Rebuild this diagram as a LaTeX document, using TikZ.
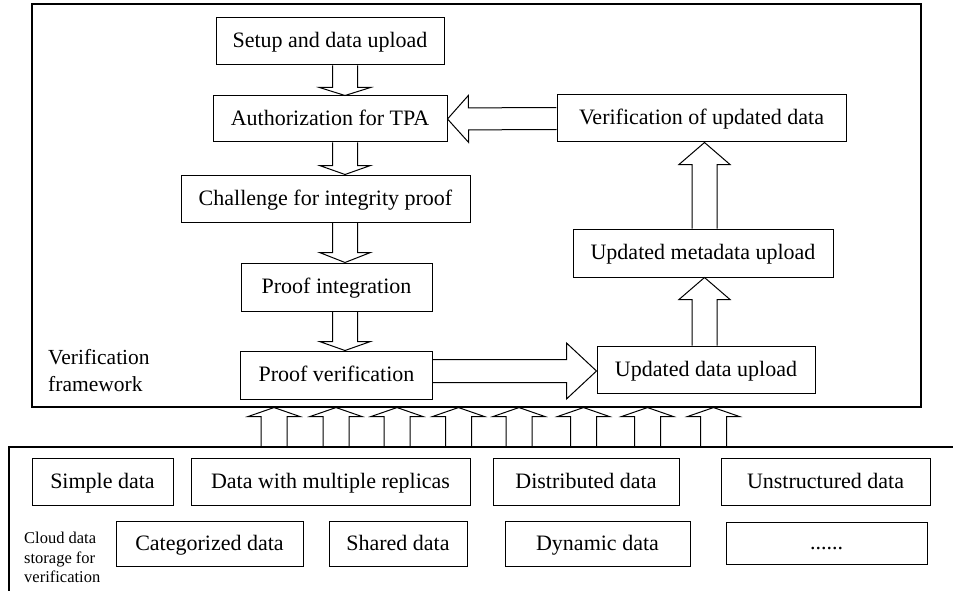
\documentclass[tikz,border=0pt]{standalone}
\usepackage{fontspec}
\setmainfont{Liberation Serif}
\usetikzlibrary{calc}
\tikzset{
  box/.style={draw, line width=1pt, inner sep=0pt, text height=17pt, text depth=4pt, font=\fontsize{22}{26}\selectfont},
  blk/.style={draw, line width=1pt, line join=miter},
  lbl/.style={inner sep=0pt, align=left, anchor=north west},
}
\newcommand\blockarrow[5]{%
  \coordinate (hb) at ($(#2)!#5!(#1)$);
  \draw[blk] ($(#1)!#3!90:(#2)$) -- ($(hb)!#3!90:(#2)$) -- ($(hb)!#4!90:(#2)$) -- (#2)
     -- ($(hb)!#4!-90:(#2)$) -- ($(hb)!#3!-90:(#2)$) -- ($(#1)!#3!-90:(#2)$);
}
\begin{document}
\begin{tikzpicture}[x=1pt, y=-1pt]
\useasboundingbox (0,0) rectangle (953,591);
% frames
\node[draw, line width=1.1pt, minimum width=889pt, minimum height=403pt, inner sep=0pt] (frame) at (476.5,205.5) {};
\coordinate (cloudtop) at (9,447);
\coordinate (cloudend) at (953,447);
\coordinate (cloudbot) at (9,591);
\draw[line width=1.1pt] (cloudend) -- (cloudtop) -- (cloudbot);
% labels
\node[lbl, font=\fontsize{21.5}{27}\selectfont] (vflab) at (48,349) {Verification\\framework};
\node[lbl, font=\fontsize{16.5}{19.5}\selectfont] (cdlab) at (24,532) {Cloud data\\storage for\\verification};
% upper boxes
\node[box, minimum width=228pt, minimum height=47pt] (setup) at (330,41.5) {Setup and data upload};
\node[box, minimum width=234pt, minimum height=46pt] (auth) at (330,119) {Authorization for TPA};
\node[box, minimum width=289pt, minimum height=47pt] (chal) at (325.5,198.5) {Challenge for integrity proof};
\node[box, minimum width=191pt, minimum height=48pt] (integ) at (336.5,287) {Proof integration};
\node[box, minimum width=192pt, minimum height=48pt] (pverif) at (336.5,375) {Proof verification};
\node[box, minimum width=289pt, minimum height=47pt] (vud) at (701.5,118.5) {Verification of updated data};
\node[box, minimum width=260pt, minimum height=48pt] (meta) at (703,253) {Updated metadata upload};
\node[box, minimum width=218pt, minimum height=47pt] (udu) at (706,369.5) {Updated data upload};
% lower boxes
\node[box, minimum width=141pt, minimum height=47pt] (simple) at (102.5,481.5) {Simple data};
\node[box, minimum width=279pt, minimum height=47pt] (repl) at (330.5,481.5) {Data with multiple replicas};
\node[box, minimum width=186pt, minimum height=47pt] (distr) at (586,481.5) {Distributed data};
\node[box, minimum width=209pt, minimum height=47pt] (unstr) at (825.5,481.5) {Unstructured data};
\node[box, minimum width=187pt, minimum height=45pt] (categ) at (209.5,543.5) {Categorized data};
\node[box, minimum width=138pt, minimum height=45pt] (shared) at (398,543.5) {Shared data};
\node[box, minimum width=185pt, minimum height=45pt] (dyn) at (597.5,543.5) {Dynamic data};
\node[box, minimum width=201pt, minimum height=42pt] (more) at (826.5,543) {......};
% arrow axes
\coordinate (ax) at (345,0);
\coordinate (rx) at (704.5,0);
\coordinate (hy) at (0,371);
% down arrows
\blockarrow{ax |- setup.south}{ax |- auth.north}{12.5pt}{25.5pt}{8pt}
\blockarrow{ax |- auth.south}{ax |- chal.north}{12.5pt}{25.5pt}{9pt}
\blockarrow{ax |- chal.south}{ax |- integ.north}{12.5pt}{25.5pt}{10pt}
\blockarrow{ax |- integ.south}{ax |- pverif.north}{12.5pt}{25.5pt}{9pt}
% horizontal arrows
\blockarrow{vud.west}{auth.east}{11pt}{23.5pt}{21pt}
\blockarrow{pverif.east |- hy}{udu.west |- hy}{11.5pt}{28pt}{30pt}
% up arrows right
\blockarrow{rx |- udu.north}{rx |- meta.south}{12.5pt}{25.5pt}{22pt}
\blockarrow{rx |- meta.north}{rx |- vud.south}{12.5pt}{25.5pt}{22pt}
% bottom arrows
\foreach \i/\xx in {1/274,2/336,3/397,4/458.5,5/519,6/583.5,7/647.5,8/713.5}{
  \coordinate (b\i) at (\xx,0);
  \blockarrow{b\i |- cloudtop}{b\i |- frame.south}{13pt}{26pt}{9pt}
}
\end{tikzpicture}
\end{document}
